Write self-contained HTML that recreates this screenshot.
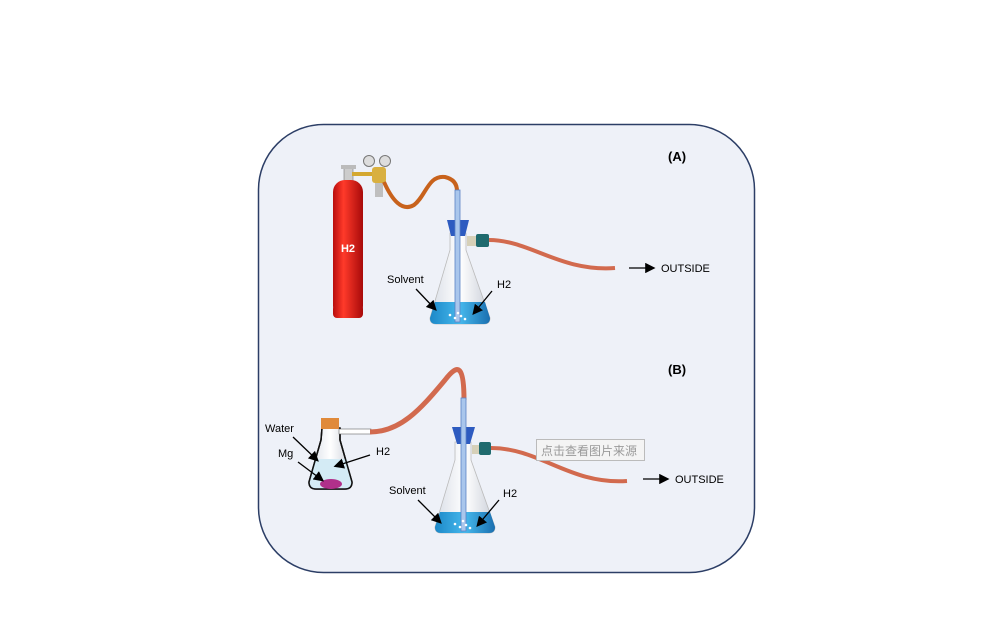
<!DOCTYPE html>
<html><head><meta charset="utf-8"><style>
html,body{margin:0;padding:0;background:#fff;width:1003px;height:637px;overflow:hidden}
text{font-family:"Liberation Sans","Noto Sans CJK SC",sans-serif}
</style></head><body>
<svg width="1003" height="637" viewBox="0 0 1003 637" xmlns="http://www.w3.org/2000/svg">
<defs>
<linearGradient id="red" x1="0" x2="1"><stop offset="0" stop-color="#b80d0d"/><stop offset="0.35" stop-color="#ff3a2a"/><stop offset="1" stop-color="#a80a0a"/></linearGradient>
<linearGradient id="glass" x1="0" x2="1"><stop offset="0" stop-color="#d8dde6"/><stop offset="0.5" stop-color="#ffffff"/><stop offset="1" stop-color="#c9ced8"/></linearGradient>
<linearGradient id="liq" x1="0" x2="1"><stop offset="0" stop-color="#1c88c8"/><stop offset="0.5" stop-color="#46b8ec"/><stop offset="1" stop-color="#1a6fb0"/></linearGradient>
<marker id="ah" markerWidth="8" markerHeight="8" refX="6" refY="4" orient="auto"><path d="M0,0 L8,4 L0,8 z" fill="#000"/></marker>
</defs>
<rect x="258.5" y="124.5" width="496" height="448" rx="65" fill="#eef1f8" stroke="#2c3e66" stroke-width="1.5"/>

<!-- (A) -->
<text x="668" y="161" font-size="13" font-weight="bold">(A)</text>
<!-- cylinder -->
<rect x="344" y="168" width="9" height="14" fill="#ccc" stroke="#777" stroke-width="0.6"/>
<rect x="341" y="165" width="15" height="4" fill="#bbb"/>
<rect x="333" y="180" width="30" height="138" rx="12" fill="url(#red)"/>
<rect x="333" y="305" width="30" height="13" rx="4" fill="url(#red)"/>
<text x="348" y="252" font-size="11" font-weight="bold" fill="#fff" text-anchor="middle">H2</text>
<!-- regulator -->
<rect x="352" y="172" width="26" height="4" fill="#d4a830"/>
<rect x="372" y="167" width="14" height="16" rx="3" fill="#d9b040"/>
<rect x="375" y="183" width="8" height="14" fill="#bfbfbf"/>
<circle cx="369" cy="161" r="5.5" fill="#ddd" stroke="#777"/>
<circle cx="385" cy="161" r="5.5" fill="#ddd" stroke="#777"/>
<!-- hose to flask A -->
<path d="M384,182 C392,200 402,212 414,205 C426,196 428,175 445,177 C458,180 457,190 457,192" fill="none" stroke="#c8621c" stroke-width="4"/>
<!-- flask A -->
<path d="M450,233 L466,233 L466,250 L490,318 Q490,324 484,324 L436,324 Q430,324 430,318 L450,250 Z" fill="url(#glass)" stroke="#bbb" stroke-width="0.8"/>
<path d="M435,302 L485,302 L490,318 Q490,324 484,324 L436,324 Q430,324 430,318 Z" fill="url(#liq)"/>
<polygon points="447,220 469,220 465,236 451,236" fill="#2d5bc0"/>
<rect x="455" y="190" width="5" height="132" fill="#a9c6ec" stroke="#5a82c4" stroke-width="0.8"/>
<rect x="467" y="236" width="12" height="10" fill="#d6d0b8"/>
<rect x="476" y="234" width="13" height="13" rx="2" fill="#1f6a6e"/>
<path d="M489,240 C530,240 560,272 615,268" fill="none" stroke="#d26a4e" stroke-width="4"/>
<circle cx="450" cy="315" r="1.3" fill="#fff"/><circle cx="455" cy="318" r="1.3" fill="#fff"/><circle cx="461" cy="316" r="1.3" fill="#fff"/><circle cx="458" cy="313" r="1.3" fill="#fff"/><circle cx="465" cy="319" r="1.3" fill="#fff"/>
<line x1="629" y1="268" x2="653" y2="268" stroke="#000" stroke-width="1.3" marker-end="url(#ah)"/>
<text x="661" y="272" font-size="11">OUTSIDE</text>
<text x="387" y="283" font-size="11">Solvent</text>
<line x1="416" y1="289" x2="435" y2="309" stroke="#000" stroke-width="1.3" marker-end="url(#ah)"/>
<text x="497" y="288" font-size="11">H2</text>
<line x1="492" y1="291" x2="474" y2="313" stroke="#000" stroke-width="1.3" marker-end="url(#ah)"/>

<!-- (B) -->
<text x="668" y="374" font-size="13" font-weight="bold">(B)</text>
<!-- small flask -->
<path d="M322,428 L340,428 L340,440 L352,482 Q352,489 345,489 L316,489 Q309,489 309,482 L321,440 Z" fill="url(#glass)" stroke="#111" stroke-width="1.5"/>
<path d="M315,459 L347,459 L352,482 Q352,489 345,489 L316,489 Q309,489 309,482 Z" fill="#d4ebf5"/>
<path d="M322,428 L321,440 L309,482 Q309,489 316,489 L345,489 Q352,489 352,482 L340,440 L340,428" fill="none" stroke="#111" stroke-width="1.5"/>
<ellipse cx="331" cy="484" rx="11" ry="5" fill="#b0308a"/>
<rect x="321" y="418" width="18" height="11" fill="#e08a3a"/>
<rect x="339" y="429" width="32" height="5" fill="#fff" stroke="#666" stroke-width="0.6"/>
<path d="M370,432 C400,432 420,410 445,380 C458,363 464,365 464,400" fill="none" stroke="#d26a4e" stroke-width="5"/>
<text x="265" y="432" font-size="11">Water</text>
<line x1="293" y1="437" x2="317" y2="460" stroke="#000" stroke-width="1.3" marker-end="url(#ah)"/>
<text x="278" y="457" font-size="11">Mg</text>
<line x1="298" y1="462" x2="322" y2="480" stroke="#000" stroke-width="1.3" marker-end="url(#ah)"/>
<text x="376" y="455" font-size="11">H2</text>
<line x1="370" y1="455" x2="336" y2="466" stroke="#000" stroke-width="1.3" marker-end="url(#ah)"/>
<!-- flask B -->
<path d="M455,442 L471,442 L471,460 L495,527 Q495,533 489,533 L441,533 Q435,533 435,527 L455,460 Z" fill="url(#glass)" stroke="#bbb" stroke-width="0.8"/>
<path d="M440,512 L490,512 L495,527 Q495,533 489,533 L441,533 Q435,533 435,527 Z" fill="url(#liq)"/>
<polygon points="452,427 475,427 470,444 457,444" fill="#2d5bc0"/>
<rect x="461" y="398" width="5" height="133" fill="#a9c6ec" stroke="#5a82c4" stroke-width="0.8"/>
<rect x="472" y="445" width="10" height="9" fill="#d6d0b8"/>
<rect x="479" y="442" width="12" height="13" rx="2" fill="#1f6a6e"/>
<path d="M491,448 C540,448 570,485 627,481" fill="none" stroke="#d26a4e" stroke-width="4"/>
<circle cx="455" cy="524" r="1.3" fill="#fff"/><circle cx="460" cy="527" r="1.3" fill="#fff"/><circle cx="466" cy="525" r="1.3" fill="#fff"/><circle cx="463" cy="521" r="1.3" fill="#fff"/><circle cx="470" cy="528" r="1.3" fill="#fff"/>
<rect x="536.5" y="439.5" width="108" height="21" fill="#f4f4f4" stroke="#bbb"/>
<text x="541" y="455" font-size="12" fill="#999">点击查看图片来源</text>
<line x1="643" y1="479" x2="667" y2="479" stroke="#000" stroke-width="1.3" marker-end="url(#ah)"/>
<text x="675" y="483" font-size="11">OUTSIDE</text>
<text x="389" y="494" font-size="11">Solvent</text>
<line x1="418" y1="500" x2="440" y2="522" stroke="#000" stroke-width="1.3" marker-end="url(#ah)"/>
<text x="503" y="497" font-size="11">H2</text>
<line x1="499" y1="500" x2="478" y2="525" stroke="#000" stroke-width="1.3" marker-end="url(#ah)"/>
</svg>
</body></html>
